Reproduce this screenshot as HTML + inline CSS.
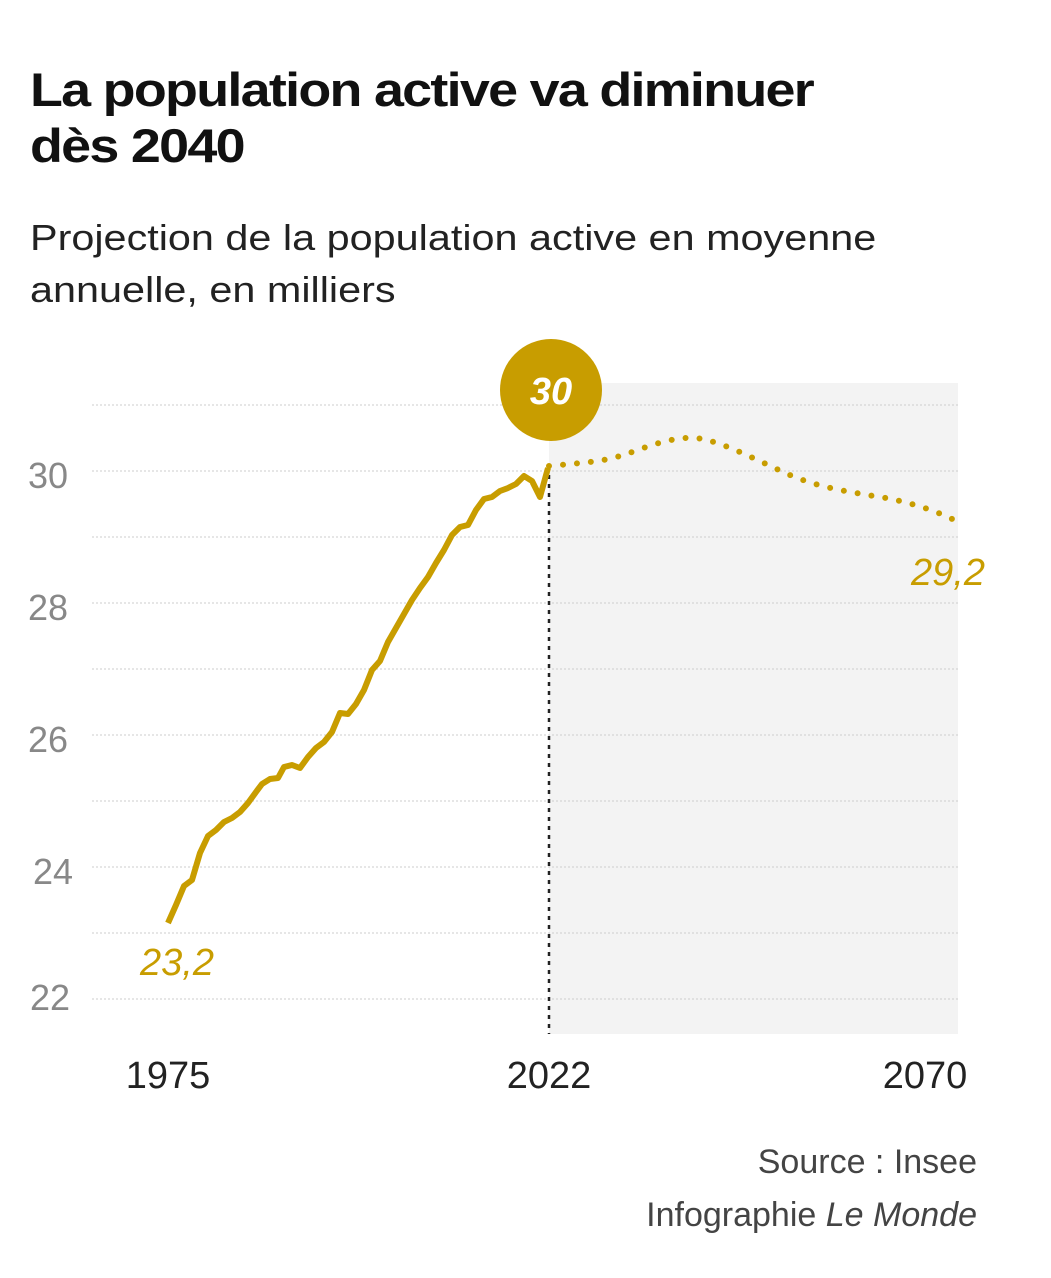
<!DOCTYPE html>
<html><head><meta charset="utf-8"><style>
body{margin:0;background:#fff;width:1051px;height:1278px;overflow:hidden;font-family:"Liberation Sans",sans-serif;}
.t{position:absolute;left:30px;top:62px;font-size:47px;font-weight:900;line-height:56px;color:#111;letter-spacing:-1.5px;transform:scaleX(1.146);transform-origin:0 0;white-space:nowrap;}
.s{position:absolute;left:30px;top:212px;font-size:36px;line-height:52px;color:#222;transform:scaleX(1.149);transform-origin:0 0;white-space:nowrap;}
</style></head><body>
<div class="t">La population active va diminuer<br>dès 2040</div>
<div class="s">Projection de la population active en moyenne<br>annuelle, en milliers</div>
<svg width="1051" height="1278" style="position:absolute;left:0;top:0">
<rect x="549" y="383" width="409" height="651" fill="#f3f3f3"/>
<g stroke="#ccc" stroke-dasharray="2,2" stroke-width="1">
<line x1="92" x2="958" y1="405" y2="405"/><line x1="92" x2="958" y1="471" y2="471"/>
<line x1="92" x2="958" y1="537" y2="537"/><line x1="92" x2="958" y1="603" y2="603"/>
<line x1="92" x2="958" y1="669" y2="669"/><line x1="92" x2="958" y1="735" y2="735"/>
<line x1="92" x2="958" y1="801" y2="801"/><line x1="92" x2="958" y1="867" y2="867"/>
<line x1="92" x2="958" y1="933" y2="933"/><line x1="92" x2="958" y1="999" y2="999"/>
</g>
<g font-size="36" fill="#888" font-family="Liberation Sans,sans-serif">
<text x="28" y="488">30</text><text x="28" y="620">28</text><text x="28" y="752">26</text>
<text x="33" y="884">24</text><text x="30" y="1010">22</text></g>
<line x1="549" x2="549" y1="466" y2="1034" stroke="#222" stroke-width="2.5" stroke-dasharray="4,5"/>
<polyline fill="none" stroke="#c89d00" stroke-width="6" stroke-linejoin="round" points="168,923 176,905 184,886 192,880 200,853 208,836 216,830 224,822 232,818 240,812 248,803 256,792 262,784 270,779 278,778 284,767 292,765 300,768 308,757 316,748 324,742 332,732 340,713 348,714 356,704 364,690 372,670 380,661 388,642 396,628 404,614 412,600 420,588 428,577 436,563 444,550 452,535 460,527 468,525 476,510 484,499 492,497 500,491 508,488 516,484 524,476 532,481 540,497 548,468"/>
<path fill="none" stroke="#c89d00" stroke-width="6" stroke-linecap="round" stroke-dasharray="0,14" d="M549,466 C580,463 600,462 620,456 S670,436 695,438 S760,462 790,475 S850,492 880,497 S940,512 958,522"/>
<circle cx="551" cy="390" r="51" fill="#c89d00"/>
<text x="551" y="404" text-anchor="middle" font-size="38" font-weight="bold" font-style="italic" fill="#fff">30</text>
<text x="140" y="975" font-size="38" font-style="italic" fill="#c89d00">23,2</text>
<text x="985" y="585" text-anchor="end" font-size="38" font-style="italic" fill="#c89d00">29,2</text>
<g font-size="38" fill="#222"><text x="168" y="1088" text-anchor="middle">1975</text>
<text x="549" y="1088" text-anchor="middle">2022</text><text x="925" y="1088" text-anchor="middle">2070</text></g>
<g font-size="34" fill="#444" text-anchor="end"><text x="977" y="1173">Source : Insee</text>
<text x="977" y="1226">Infographie <tspan font-style="italic">Le Monde</tspan></text></g>
</svg>
</body></html>
